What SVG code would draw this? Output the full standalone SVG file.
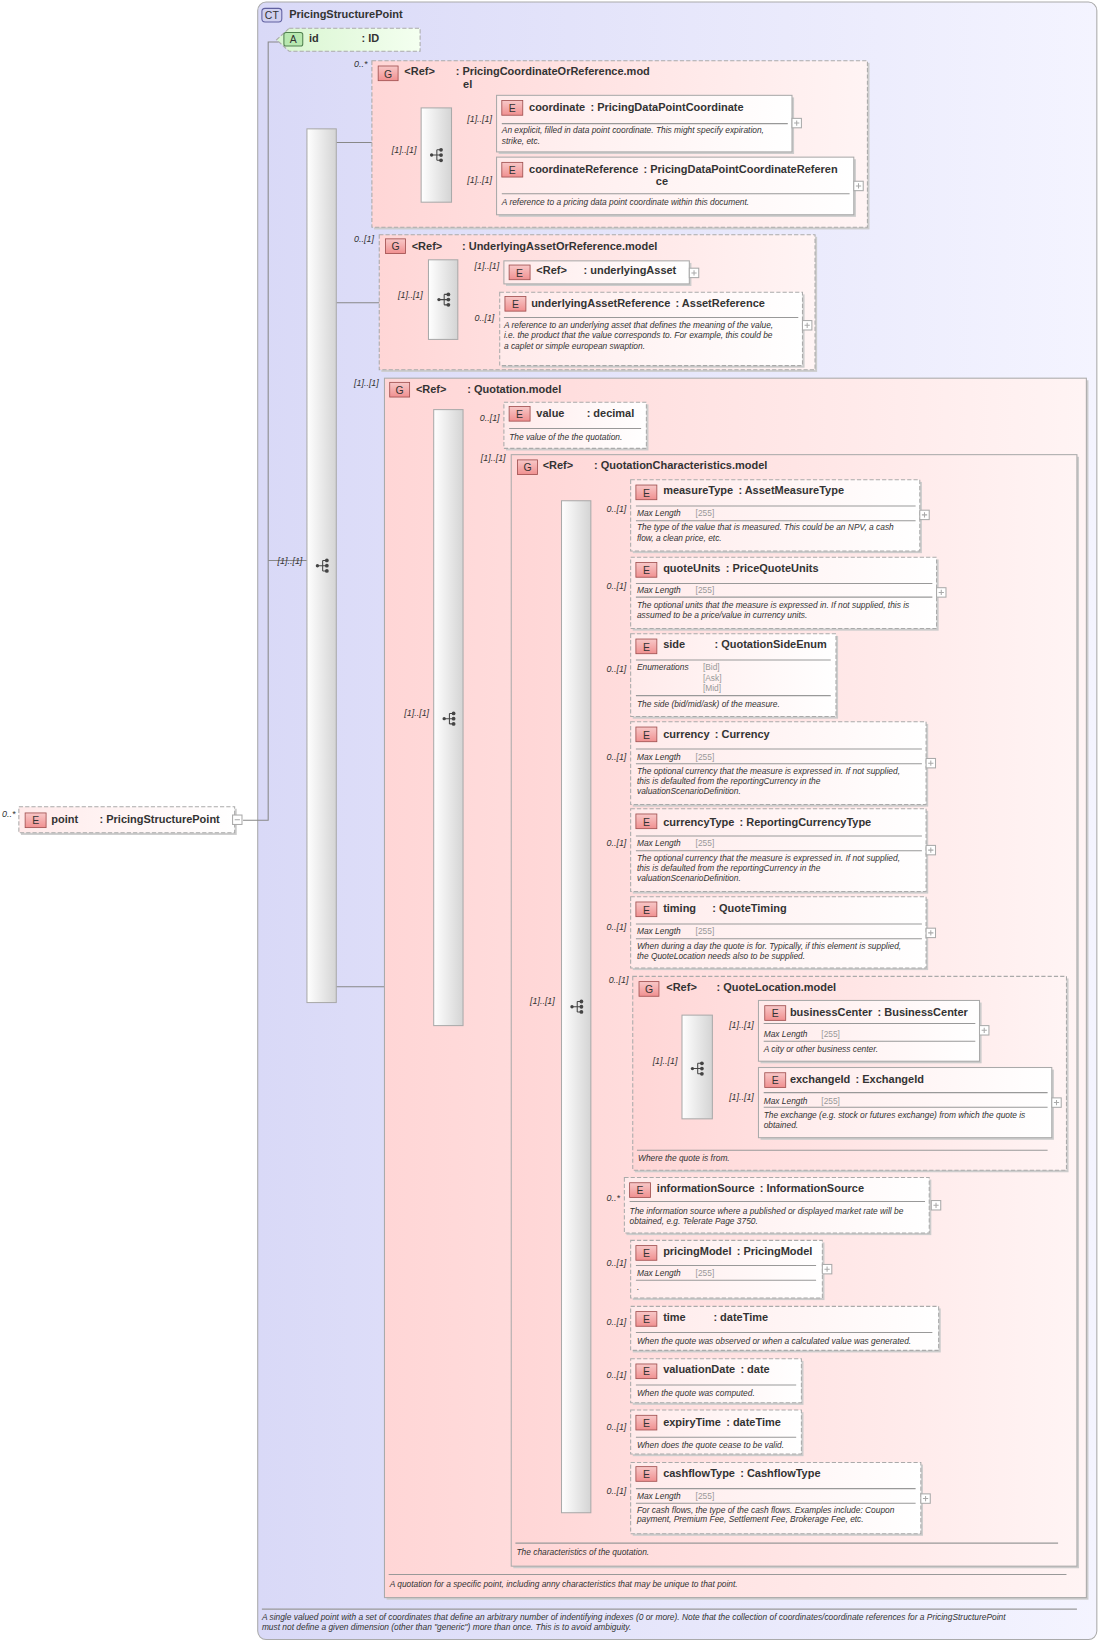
<svg xmlns="http://www.w3.org/2000/svg" width="1101" height="1642" viewBox="0 0 1101 1642">
<defs>
<linearGradient id="ct" x1="0" y1="0" x2="1" y2="0"><stop offset="0" stop-color="#d9d9f7"/><stop offset="1" stop-color="#f4f4ff"/></linearGradient>
<linearGradient id="grp" x1="0" y1="0" x2="1" y2="0"><stop offset="0" stop-color="#ffd6d6"/><stop offset="1" stop-color="#fff4f4"/></linearGradient>
<linearGradient id="el" x1="0" y1="0" x2="1" y2="0"><stop offset="0" stop-color="#ffeaea"/><stop offset="1" stop-color="#ffffff"/></linearGradient>
<linearGradient id="att" x1="0" y1="0" x2="1" y2="0"><stop offset="0" stop-color="#d8f5d0"/><stop offset="1" stop-color="#f4fff0"/></linearGradient>
<linearGradient id="bar" x1="0" y1="0" x2="1" y2="0"><stop offset="0" stop-color="#ffffff"/><stop offset="1" stop-color="#d4d4d4"/></linearGradient>
<linearGradient id="bdg" x1="0" y1="0" x2="0" y2="1"><stop offset="0" stop-color="#f8c8c8"/><stop offset="1" stop-color="#f09090"/></linearGradient>
<g id="seqicon"><circle cx="-5" cy="0" r="1.6" fill="#444"/><path d="M-5 0H0M0 -5V5M0 -5H4M0 0H4M0 5H4" stroke="#444" stroke-width="1" fill="none"/><circle cx="4" cy="-5" r="1.8" fill="#444"/><circle cx="4" cy="0" r="1.8" fill="#444"/><circle cx="4" cy="5" r="1.8" fill="#444"/></g>
<g id="plus"><rect x="0" y="0" width="9" height="9" fill="#fff" stroke="#aaa"/><path d="M2 4.5H7M4.5 2V7" stroke="#aaa"/></g>
</defs>
<style>
text{font-family:"Liberation Sans",Arial,sans-serif;fill:#333}
.n{font-size:10.5px;font-weight:bold}
.d{font-size:8px;font-style:italic}
.l{font-size:8.5px;font-style:italic}
.m{font-size:8px;fill:#999}
.b{font-size:10px;text-anchor:middle;fill:#333}
.ct{fill:url(#ct);stroke:#aaa;stroke-width:1}
.g{fill:url(#grp);stroke:#aaa;stroke-width:1}
.gd{fill:url(#grp);stroke:#aaa;stroke-width:1;stroke-dasharray:4,2}
.e{fill:url(#el);stroke:#aaa;stroke-width:1}
.ed{fill:url(#el);stroke:#aaa;stroke-width:1;stroke-dasharray:4,2}
.sh{fill:#ccc}
.bg{fill:url(#bdg);stroke:#a05050;stroke-width:0.8}
.sq{fill:url(#bar);stroke:#aaa;stroke-width:1}
.sep{stroke:#999;stroke-width:1}
.c{stroke:#888;stroke-width:1;fill:none}
</style>
<g transform="scale(1.0476)">
<g id="ct_PricingStructurePoint">
<rect x="246" y="2" width="801" height="1563" rx="8" class="ct"/>
<rect x="250" y="8" width="19" height="13" rx="3" fill="#d0d0f0" stroke="#6060a0"/><text x="259.5" y="18" class="b">CT</text>
<text x="276" y="17" class="n">PricingStructurePoint</text>
<line x1="250" y1="1536" x2="1028" y2="1536" class="sep"/>
<text x="250" y="1546" class="d">A single valued point with a set of coordinates that define an arbitrary number of indentifying indexes (0 or more). Note that the collection of coordinates/coordinate references for a PricingStructurePoint</text>
<text x="250" y="1556" class="d">must not define a given dimension (other than "generic") more than once. This is to avoid ambiguity.</text>
</g>

<g id="connectors">
<path class="c" d="M232 783H256V40H266"/>
<path class="c" d="M256 535H293"/>
<path class="c" d="M321 136H355M321 289H362M321 942H367"/>
<path class="c" d="M355 149H402M431 124H474M431 180H474"/>
<path class="c" d="M362 289H409M437 273H481M437 312H477"/>
<path class="c" d="M367 686H414M442 405H481M442 963H488H536"/>
<path class="c" d="M564 488H602M564 561H602M564 645H602M564 729H602M564 812H602M564 891H602M564 1024H604M564 1150H596M564 1210H602M564 1265H602M564 1315H602M564 1365H602M564 1426H602"/>
<path class="c" d="M604 1019H651M680 981H724M680 1052H724"/>
</g>

<g id="el_point">
<rect x="20" y="772" width="206" height="25" class="sh"/>
<rect x="18" y="770" width="206" height="25" class="ed"/>
<rect x="24" y="776" width="20" height="14" class="bg"/><text x="34" y="787" class="b">E</text>
<text x="49" y="786" class="n">point</text><text x="95" y="786" class="n">: PricingStructurePoint</text>
<text x="2" y="780" class="l">0..*</text>
<rect x="222" y="778" width="9" height="9" fill="#fff" stroke="#aaa"/><path d="M224 782.5H229" stroke="#aaa"/>
</g>

<g id="attr_id">
<path d="M276 27H401V49H276L264 38Z" fill="url(#att)" stroke="#aaa" stroke-dasharray="4,2"/>
<rect x="271" y="31" width="18" height="13" rx="2" fill="#b8e8b0" stroke="#508050"/><text x="280" y="41.5" class="b">A</text>
<text x="295" y="40" class="n">id</text><text x="345" y="40" class="n">: ID</text>
</g>

<g id="seq_main">
<rect x="293" y="123" width="28" height="834" class="sq"/>
<use href="#seqicon" x="308" y="540"/>
<text x="265" y="538" class="l">[1]..[1]</text>
</g>

<g id="grp_PricingCoordinateOrReference">
<rect x="357" y="60" width="473" height="159" class="sh"/>
<rect x="355" y="58" width="473" height="159" class="gd"/>
<text x="338" y="64" class="l">0..*</text>
<rect x="361" y="63" width="19" height="14" class="bg"/><text x="370.5" y="74" class="b">G</text>
<text x="386" y="72" class="n">&lt;Ref&gt;</text><text x="435" y="72" class="n">: PricingCoordinateOrReference.mod</text><text x="442" y="84" class="n">el</text>
<rect x="402" y="103" width="29" height="90" class="sq"/><use href="#seqicon" x="417" y="148"/>
<text x="374" y="146" class="l">[1]..[1]</text>
<text x="446" y="116" class="l">[1]..[1]</text><text x="446" y="175" class="l">[1]..[1]</text>
</g>
<g id="el_coordinate">
<rect x="476" y="93" width="282" height="54" class="sh"/>
<rect x="474" y="91" width="282" height="54" class="e"/>
<rect x="479" y="96" width="20" height="14" class="bg"/><text x="489" y="107" class="b">E</text>
<text x="505" y="106" class="n">coordinate<tspan dx="5">: PricingDataPointCoordinate</tspan></text>
<line x1="479" y1="118" x2="752" y2="118" class="sep"/>
<text x="479" y="127" class="d">An explicit, filled in data point coordinate. This might specify expiration,</text>
<text x="479" y="137" class="d">strike, etc.</text>
<use href="#plus" x="756" y="113"/>
</g>
<g id="el_coordinateReference">
<rect x="476" y="152" width="341" height="55" class="sh"/>
<rect x="474" y="150" width="341" height="55" class="e"/>
<rect x="479" y="155" width="20" height="14" class="bg"/><text x="489" y="166" class="b">E</text>
<text x="505" y="165" class="n">coordinateReference<tspan dx="5">: PricingDataPointCoordinateReferen</tspan></text><text x="626" y="177" class="n">ce</text>
<line x1="479" y1="185" x2="811" y2="185" class="sep"/>
<text x="479" y="196" class="d">A reference to a pricing data point coordinate within this document.</text>
<use href="#plus" x="815" y="173"/>
</g>

<g id="grp_UnderlyingAssetOrReference">
<rect x="364" y="226" width="416" height="129" class="sh"/>
<rect x="362" y="224" width="416" height="129" class="gd"/>
<text x="338" y="231" class="l">0..[1]</text>
<rect x="368" y="228" width="19" height="14" class="bg"/><text x="377.5" y="239" class="b">G</text>
<text x="393" y="239" class="n">&lt;Ref&gt;</text><text x="441" y="239" class="n">: UnderlyingAssetOrReference.model</text>
<rect x="409" y="248" width="28" height="76" class="sq"/><use href="#seqicon" x="424" y="286"/>
<text x="380" y="284" class="l">[1]..[1]</text>
<text x="453" y="257" class="l">[1]..[1]</text><text x="453" y="306" class="l">0..[1]</text>
</g>
<g id="el_underlyingAsset">
<rect x="483" y="251" width="177" height="22" class="sh"/>
<rect x="481" y="249" width="177" height="22" class="e"/>
<rect x="486" y="253" width="20" height="14" class="bg"/><text x="496" y="264" class="b">E</text>
<text x="512" y="262" class="n">&lt;Ref&gt;</text><text x="557" y="262" class="n">: underlyingAsset</text>
<use href="#plus" x="658" y="256"/>
</g>
<g id="el_underlyingAssetReference">
<rect x="479" y="281" width="289" height="70" class="sh"/>
<rect x="477" y="279" width="289" height="70" class="ed"/>
<rect x="482" y="283" width="20" height="14" class="bg"/><text x="492" y="294" class="b">E</text>
<text x="507" y="293" class="n">underlyingAssetReference<tspan dx="5">: AssetReference</tspan></text>
<line x1="481" y1="303" x2="762" y2="303" class="sep"/>
<text x="481" y="313" class="d">A reference to an underlying asset that defines the meaning of the value,</text>
<text x="481" y="323" class="d">i.e. the product that the value corresponds to. For example, this could be</text>
<text x="481" y="333" class="d">a caplet or simple european swaption.</text>
<use href="#plus" x="766" y="306"/>
</g>

<g id="grp_Quotation">
<rect x="369" y="363" width="670" height="1164" class="sh"/>
<rect x="367" y="361" width="670" height="1164" class="g"/>
<text x="338" y="368" class="l">[1]..[1]</text>
<rect x="372" y="365" width="19" height="14" class="bg"/><text x="381.5" y="376" class="b">G</text>
<text x="397" y="375" class="n">&lt;Ref&gt;</text><text x="446" y="375" class="n">: Quotation.model</text>
<rect x="414" y="391" width="28" height="588" class="sq"/><use href="#seqicon" x="429" y="686"/>
<text x="386" y="683" class="l">[1]..[1]</text>
<text x="458" y="402" class="l">0..[1]</text><text x="459" y="440" class="l">[1]..[1]</text>
<line x1="371" y1="1503" x2="1018" y2="1503" class="sep"/>
<text x="372" y="1515" class="d">A quotation for a specific point, including anny characteristics that may be unique to that point.</text>
</g>
<g id="el_value">
<rect x="483" y="386" width="136" height="44" class="sh"/>
<rect x="481" y="384" width="136" height="44" class="ed"/>
<rect x="486" y="388" width="20" height="14" class="bg"/><text x="496" y="399" class="b">E</text>
<text x="512" y="398" class="n">value</text><text x="560" y="398" class="n">: decimal</text>
<line x1="486" y1="409" x2="612" y2="409" class="sep"/>
<text x="486" y="420" class="d">The value of the the quotation.</text>
</g>

<g id="grp_QuotationCharacteristics">
<rect x="490" y="436" width="540" height="1061" class="sh"/>
<rect x="488" y="434" width="540" height="1061" class="g"/>
<rect x="494" y="439" width="19" height="14" class="bg"/><text x="503.5" y="450" class="b">G</text>
<text x="518" y="448" class="n">&lt;Ref&gt;</text><text x="567" y="448" class="n">: QuotationCharacteristics.model</text>
<rect x="536" y="478" width="28" height="966" class="sq"/><use href="#seqicon" x="551" y="961"/>
<text x="506" y="958" class="l">[1]..[1]</text>
<text x="579" y="489" class="l">0..[1]</text><text x="579" y="562" class="l">0..[1]</text><text x="579" y="641" class="l">0..[1]</text>
<text x="579" y="725" class="l">0..[1]</text><text x="579" y="808" class="l">0..[1]</text><text x="579" y="888" class="l">0..[1]</text>
<text x="581" y="938" class="l">0..[1]</text><text x="579" y="1146" class="l">0..*</text><text x="579" y="1208" class="l">0..[1]</text>
<text x="579" y="1265" class="l">0..[1]</text><text x="579" y="1315" class="l">0..[1]</text><text x="579" y="1365" class="l">0..[1]</text>
<text x="579" y="1426" class="l">0..[1]</text>
<line x1="492" y1="1473" x2="1010" y2="1473" class="sep"/>
<text x="493" y="1484" class="d">The characteristics of the quotation.</text>
</g>

<g id="el_measureType">
<rect x="604" y="460" width="276" height="68" class="sh"/>
<rect x="602" y="458" width="276" height="68" class="ed"/>
<rect x="607" y="463" width="20" height="14" class="bg"/><text x="617" y="474" class="b">E</text>
<text x="633" y="472" class="n">measureType<tspan dx="5">: AssetMeasureType</tspan></text>
<line x1="607" y1="483" x2="874" y2="483" class="sep"/><line x1="607" y1="497" x2="874" y2="497" class="sep"/>
<text x="608" y="493" class="d">Max Length</text><text x="664" y="493" class="m">[255]</text>
<text x="608" y="506" class="d">The type of the value that is measured. This could be an NPV, a cash</text>
<text x="608" y="516" class="d">flow, a clean price, etc.</text>
<use href="#plus" x="878" y="487"/>
</g>
<g id="el_quoteUnits">
<rect x="604" y="534" width="292" height="68" class="sh"/>
<rect x="602" y="532" width="292" height="68" class="ed"/>
<rect x="607" y="537" width="20" height="14" class="bg"/><text x="617" y="548" class="b">E</text>
<text x="633" y="546" class="n">quoteUnits<tspan dx="5">: PriceQuoteUnits</tspan></text>
<line x1="607" y1="557" x2="890" y2="557" class="sep"/><line x1="607" y1="570" x2="890" y2="570" class="sep"/>
<text x="608" y="566" class="d">Max Length</text><text x="664" y="566" class="m">[255]</text>
<text x="608" y="580" class="d">The optional units that the measure is expressed in. If not supplied, this is</text>
<text x="608" y="590" class="d">assumed to be a price/value in currency units.</text>
<use href="#plus" x="894" y="561"/>
</g>
<g id="el_side">
<rect x="604" y="607" width="196" height="79" class="sh"/>
<rect x="602" y="605" width="196" height="79" class="ed"/>
<rect x="607" y="610" width="20" height="14" class="bg"/><text x="617" y="621" class="b">E</text>
<text x="633" y="619" class="n">side</text><text x="682" y="619" class="n">: QuotationSideEnum</text>
<line x1="607" y1="630" x2="793" y2="630" class="sep"/>
<text x="608" y="640" class="d">Enumerations</text>
<text x="671" y="640" class="m">[Bid]</text><text x="671" y="650" class="m">[Ask]</text><text x="671" y="660" class="m">[Mid]</text>
<line x1="607" y1="664" x2="793" y2="664" class="sep"/>
<text x="608" y="675" class="d">The side (bid/mid/ask) of the measure.</text>
</g>
<g id="el_currency">
<rect x="604" y="691" width="282" height="79" class="sh"/>
<rect x="602" y="689" width="282" height="79" class="ed"/>
<rect x="607" y="694" width="20" height="14" class="bg"/><text x="617" y="705" class="b">E</text>
<text x="633" y="704" class="n">currency<tspan dx="5">: Currency</tspan></text>
<line x1="607" y1="715" x2="880" y2="715" class="sep"/><line x1="607" y1="729" x2="880" y2="729" class="sep"/>
<text x="608" y="725" class="d">Max Length</text><text x="664" y="725" class="m">[255]</text>
<text x="608" y="739" class="d">The optional currency that the measure is expressed in. If not supplied,</text>
<text x="608" y="748" class="d">this is defaulted from the reportingCurrency in the</text>
<text x="608" y="758" class="d">valuationScenarioDefinition.</text>
<use href="#plus" x="884" y="724"/>
</g>
<g id="el_currencyType">
<rect x="604" y="774" width="282" height="79" class="sh"/>
<rect x="602" y="772" width="282" height="79" class="ed"/>
<rect x="607" y="777" width="20" height="14" class="bg"/><text x="617" y="788" class="b">E</text>
<text x="633" y="788" class="n">currencyType<tspan dx="5">: ReportingCurrencyType</tspan></text>
<line x1="607" y1="798" x2="880" y2="798" class="sep"/><line x1="607" y1="812" x2="880" y2="812" class="sep"/>
<text x="608" y="808" class="d">Max Length</text><text x="664" y="808" class="m">[255]</text>
<text x="608" y="822" class="d">The optional currency that the measure is expressed in. If not supplied,</text>
<text x="608" y="831" class="d">this is defaulted from the reportingCurrency in the</text>
<text x="608" y="841" class="d">valuationScenarioDefinition.</text>
<use href="#plus" x="884" y="807"/>
</g>
<g id="el_timing">
<rect x="604" y="858" width="282" height="68" class="sh"/>
<rect x="602" y="856" width="282" height="68" class="ed"/>
<rect x="607" y="861" width="20" height="14" class="bg"/><text x="617" y="872" class="b">E</text>
<text x="633" y="871" class="n">timing</text><text x="680" y="871" class="n">: QuoteTiming</text>
<line x1="607" y1="882" x2="880" y2="882" class="sep"/><line x1="607" y1="896" x2="880" y2="896" class="sep"/>
<text x="608" y="892" class="d">Max Length</text><text x="664" y="892" class="m">[255]</text>
<text x="608" y="906" class="d">When during a day the quote is for. Typically, if this element is supplied,</text>
<text x="608" y="915" class="d">the QuoteLocation needs also to be supplied.</text>
<use href="#plus" x="884" y="886"/>
</g>

<g id="grp_QuoteLocation">
<rect x="606" y="934" width="414" height="185" class="sh"/>
<rect x="604" y="932" width="414" height="185" class="gd"/>
<rect x="610" y="937" width="19" height="14" class="bg"/><text x="619.5" y="948" class="b">G</text>
<text x="636" y="946" class="n">&lt;Ref&gt;</text><text x="684" y="946" class="n">: QuoteLocation.model</text>
<rect x="651" y="969" width="29" height="99" class="sq"/><use href="#seqicon" x="666" y="1020"/>
<text x="623" y="1016" class="l">[1]..[1]</text>
<text x="696" y="981" class="l">[1]..[1]</text><text x="696" y="1050" class="l">[1]..[1]</text>
<line x1="608" y1="1098" x2="1000" y2="1098" class="sep"/>
<text x="609" y="1108" class="d">Where the quote is from.</text>
</g>
<g id="el_businessCenter">
<rect x="726" y="957" width="211" height="58" class="sh"/>
<rect x="724" y="955" width="211" height="58" class="e"/>
<rect x="730" y="960" width="20" height="14" class="bg"/><text x="740" y="971" class="b">E</text>
<text x="754" y="970" class="n">businessCenter<tspan dx="5">: BusinessCenter</tspan></text>
<line x1="729" y1="977" x2="931" y2="977" class="sep"/><line x1="729" y1="994" x2="931" y2="994" class="sep"/>
<text x="729" y="990" class="d">Max Length</text><text x="784" y="990" class="m">[255]</text>
<text x="729" y="1004" class="d">A city or other business center.</text>
<use href="#plus" x="935" y="979"/>
</g>
<g id="el_exchangeId">
<rect x="726" y="1021" width="280" height="67" class="sh"/>
<rect x="724" y="1019" width="280" height="67" class="e"/>
<rect x="730" y="1024" width="20" height="14" class="bg"/><text x="740" y="1035" class="b">E</text>
<text x="754" y="1034" class="n">exchangeId<tspan dx="5">: ExchangeId</tspan></text>
<line x1="729" y1="1043" x2="1000" y2="1043" class="sep"/><line x1="729" y1="1057" x2="1000" y2="1057" class="sep"/>
<text x="729" y="1054" class="d">Max Length</text><text x="784" y="1054" class="m">[255]</text>
<text x="729" y="1067" class="d">The exchange (e.g. stock or futures exchange) from which the quote is</text>
<text x="729" y="1077" class="d">obtained.</text>
<use href="#plus" x="1004" y="1048"/>
</g>

<g id="el_informationSource">
<rect x="598" y="1126" width="291" height="53" class="sh"/>
<rect x="596" y="1124" width="291" height="53" class="ed"/>
<rect x="601" y="1129" width="20" height="14" class="bg"/><text x="611" y="1140" class="b">E</text>
<text x="627" y="1138" class="n">informationSource<tspan dx="5">: InformationSource</tspan></text>
<line x1="601" y1="1147" x2="883" y2="1147" class="sep"/>
<text x="601" y="1159" class="d">The information source where a published or displayed market rate will be</text>
<text x="601" y="1168" class="d">obtained, e.g. Telerate Page 3750.</text>
<use href="#plus" x="889" y="1146"/>
</g>
<g id="el_pricingModel">
<rect x="604" y="1186" width="183" height="55" class="sh"/>
<rect x="602" y="1184" width="183" height="55" class="ed"/>
<rect x="607" y="1189" width="20" height="14" class="bg"/><text x="617" y="1200" class="b">E</text>
<text x="633" y="1198" class="n">pricingModel<tspan dx="5">: PricingModel</tspan></text>
<line x1="607" y1="1208" x2="779" y2="1208" class="sep"/><line x1="607" y1="1222" x2="779" y2="1222" class="sep"/>
<text x="608" y="1218" class="d">Max Length</text><text x="664" y="1218" class="m">[255]</text>
<text x="608" y="1231" class="d">.</text>
<use href="#plus" x="785" y="1207"/>
</g>
<g id="el_time">
<rect x="604" y="1249" width="294" height="42" class="sh"/>
<rect x="602" y="1247" width="294" height="42" class="ed"/>
<rect x="607" y="1252" width="20" height="14" class="bg"/><text x="617" y="1263" class="b">E</text>
<text x="633" y="1261" class="n">time</text><text x="681" y="1261" class="n">: dateTime</text>
<line x1="607" y1="1272" x2="890" y2="1272" class="sep"/>
<text x="608" y="1283" class="d">When the quote was observed or when a calculated value was generated.</text>
</g>
<g id="el_valuationDate">
<rect x="604" y="1299" width="163" height="42" class="sh"/>
<rect x="602" y="1297" width="163" height="42" class="ed"/>
<rect x="607" y="1302" width="20" height="14" class="bg"/><text x="617" y="1313" class="b">E</text>
<text x="633" y="1311" class="n">valuationDate<tspan dx="5">: date</tspan></text>
<line x1="607" y1="1322" x2="760" y2="1322" class="sep"/>
<text x="608" y="1333" class="d">When the quote was computed.</text>
</g>
<g id="el_expiryTime">
<rect x="604" y="1348" width="163" height="42" class="sh"/>
<rect x="602" y="1346" width="163" height="42" class="ed"/>
<rect x="607" y="1351" width="20" height="14" class="bg"/><text x="617" y="1362" class="b">E</text>
<text x="633" y="1361" class="n">expiryTime<tspan dx="5">: dateTime</tspan></text>
<line x1="607" y1="1372" x2="760" y2="1372" class="sep"/>
<text x="608" y="1382" class="d">When does the quote cease to be valid.</text>
</g>
<g id="el_cashflowType">
<rect x="604" y="1398" width="277" height="68" class="sh"/>
<rect x="602" y="1396" width="277" height="68" class="ed"/>
<rect x="607" y="1400" width="20" height="14" class="bg"/><text x="617" y="1411" class="b">E</text>
<text x="633" y="1410" class="n">cashflowType<tspan dx="5">: CashflowType</tspan></text>
<line x1="607" y1="1421" x2="874" y2="1421" class="sep"/><line x1="607" y1="1435" x2="874" y2="1435" class="sep"/>
<text x="608" y="1431" class="d">Max Length</text><text x="664" y="1431" class="m">[255]</text>
<text x="608" y="1444" class="d">For cash flows, the type of the cash flows. Examples include: Coupon</text>
<text x="608" y="1453" class="d">payment, Premium Fee, Settlement Fee, Brokerage Fee, etc.</text>
<use href="#plus" x="879" y="1426"/>
</g>
</g>
</svg>
